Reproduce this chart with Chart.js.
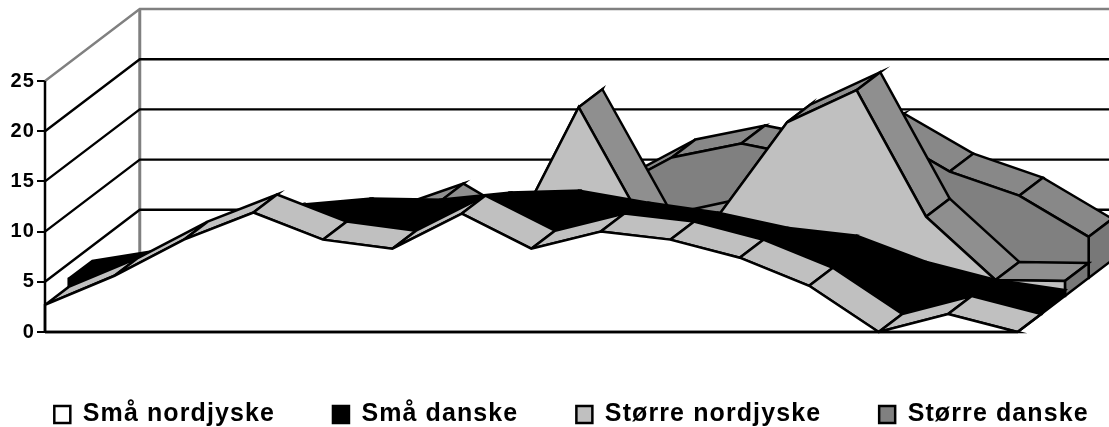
<!DOCTYPE html>
<html><head><meta charset="utf-8">
<style>html,body{margin:0;padding:0;background:#fff}canvas{display:block}</style>
<script src="https://cdn.jsdelivr.net/npm/chart.js@4"></script></head>
<body><div style="width:1109px;height:427px"><canvas id="c" width="1109" height="427"></canvas></div>
<script>
const categories = ['1','2','3','4','5','6','7','8','9','10','11','12','13','14','15'];
const smaaNordjyske = [2.7,5.6,9.2,11.9,9.2,8.3,11.8,8.3,10,9.2,7.4,4.6,0,1.8,0];
const smaaDanske = [3.5,4.6,7.4,9.1,9.7,9.6,10.3,10.5,9.3,8.3,6.8,6,3.4,1.6,0.6];
const stoerreNordjyske = [0.5,2,4,6,7,9.4,5.3,18.8,6.4,7.9,17.3,20.5,7.9,1.6,1.5];
const stoerreDanske = [0.2,0.5,1,2,3,4,6,8.3,12,13.4,12,14.6,10.6,8.2,4.1];
const seriesNames = ['Små nordjyske','Små danske','Større nordjyske','Større danske'];
const yTicks = [5,10,15,20,25];

const DX = 0.341, DY = 1.793, LAYERS = 4;
const EXTRA = 60;
const XMAX = (1111-45)/69.6, YMAX = 32.57;
const series = [smaaNordjyske, smaaDanske, stoerreNordjyske, stoerreDanske];
const faceColors = ['#ffffff','#000000','#c0c0c0','#808080'];
const topColors  = ['#c0c0c0','#000000','#8f8f8f','#888888'];
const sideColors = ['#c0c0c0','#000000','#787878','#787878'];

const P = (i,v,l) => ({x:i+l*DX, y:v+l*DY});
function poly(points, fillColor, label){
  const closed = points.concat([points[0]]);
  return {label:label||'', data:closed, showLine:true, fill:'shape', backgroundColor:fillColor,
    borderColor:'#000', borderWidth:2.5, pointRadius:0, tension:0, clip:false, borderJoinStyle:'miter'};
}
function line(points,color,w){
  return {label:'', data:points, showLine:true, fill:false, borderColor:color, borderWidth:w,
    pointRadius:0, tension:0, clip:false, backgroundColor:color};
}
const datasets = [];
// first dataset is painted last
datasets.push(line([{x:0,y:0},{x:0,y:25}],'#000',2.5));
datasets.push(line([{x:0,y:0},{x:14,y:0}],'#000',2.5));
series.forEach((vals,l)=>{
  const n = vals.length;
  const front = [P(0,0,l)].concat(vals.map((v,i)=>P(i,v,l)), [P(n-1,0,l)]);
  datasets.push(poly(front, faceColors[l], seriesNames[l]));
  datasets.push(poly([P(n-1,0,l),P(n-1,vals[n-1],l),P(n-1,vals[n-1],l+1),P(n-1,0,l+1)], sideColors[l]));
  for(let i=n-2;i>=0;i--){
    datasets.push(poly([P(i,vals[i],l),P(i+1,vals[i+1],l),P(i+1,vals[i+1],l+1),P(i,vals[i],l+1)], topColors[l]));
  }
});
yTicks.forEach(v=>{
  const w = v===25 ? '#808080' : '#000';
  datasets.push(line([{x:0,y:v},P(0,v,LAYERS),{x:XMAX,y:v+LAYERS*DY}],w,2.4));
});
datasets.push(line([P(0,0,LAYERS),P(0,25,LAYERS)],'#808080',3));

const spacing = c => { c.ctx.letterSpacing='1.1px'; };
new Chart(document.getElementById('c'),{
  type:'scatter',
  data:{datasets},
  plugins:[{id:'spacing',beforeLayout:spacing,beforeDraw:spacing,
    afterLayout(chart){const L=chart.legend;L.top+=12;L.bottom+=12;L.left+=17;L.right+=17;}}],
  options:{
    responsive:false, animation:false,
    layout:{padding:{left:-EXTRA,right:-EXTRA,top:5,bottom:2}},
    plugins:{tooltip:{enabled:false},
      legend:{position:'bottom',
        labels:{padding:58,boxWidth:16,boxHeight:17,color:'#000',
          font:{family:'"Liberation Sans",Arial,sans-serif',weight:'bold',size:25},
          filter:it=>!!it.text}}},
    scales:{
      x:{type:'linear',display:false,min:0,max:XMAX},
      y:{type:'linear',min:0,max:YMAX,
        afterFit(a){a.width=45+EXTRA;a.paddingTop=0;a.paddingBottom=0;},
        afterBuildTicks(a){a.ticks=a.ticks.filter(t=>t.value<=25);},
        border:{display:false},
        grid:{drawOnChartArea:false,drawTicks:true,tickLength:8,color:'#000',lineWidth:2},
        ticks:{stepSize:5,includeBounds:false,color:'#000',padding:2,
          font:{family:'"Liberation Sans",Arial,sans-serif',weight:'bold',size:20}}}
    }
  }
});
</script></body></html>
